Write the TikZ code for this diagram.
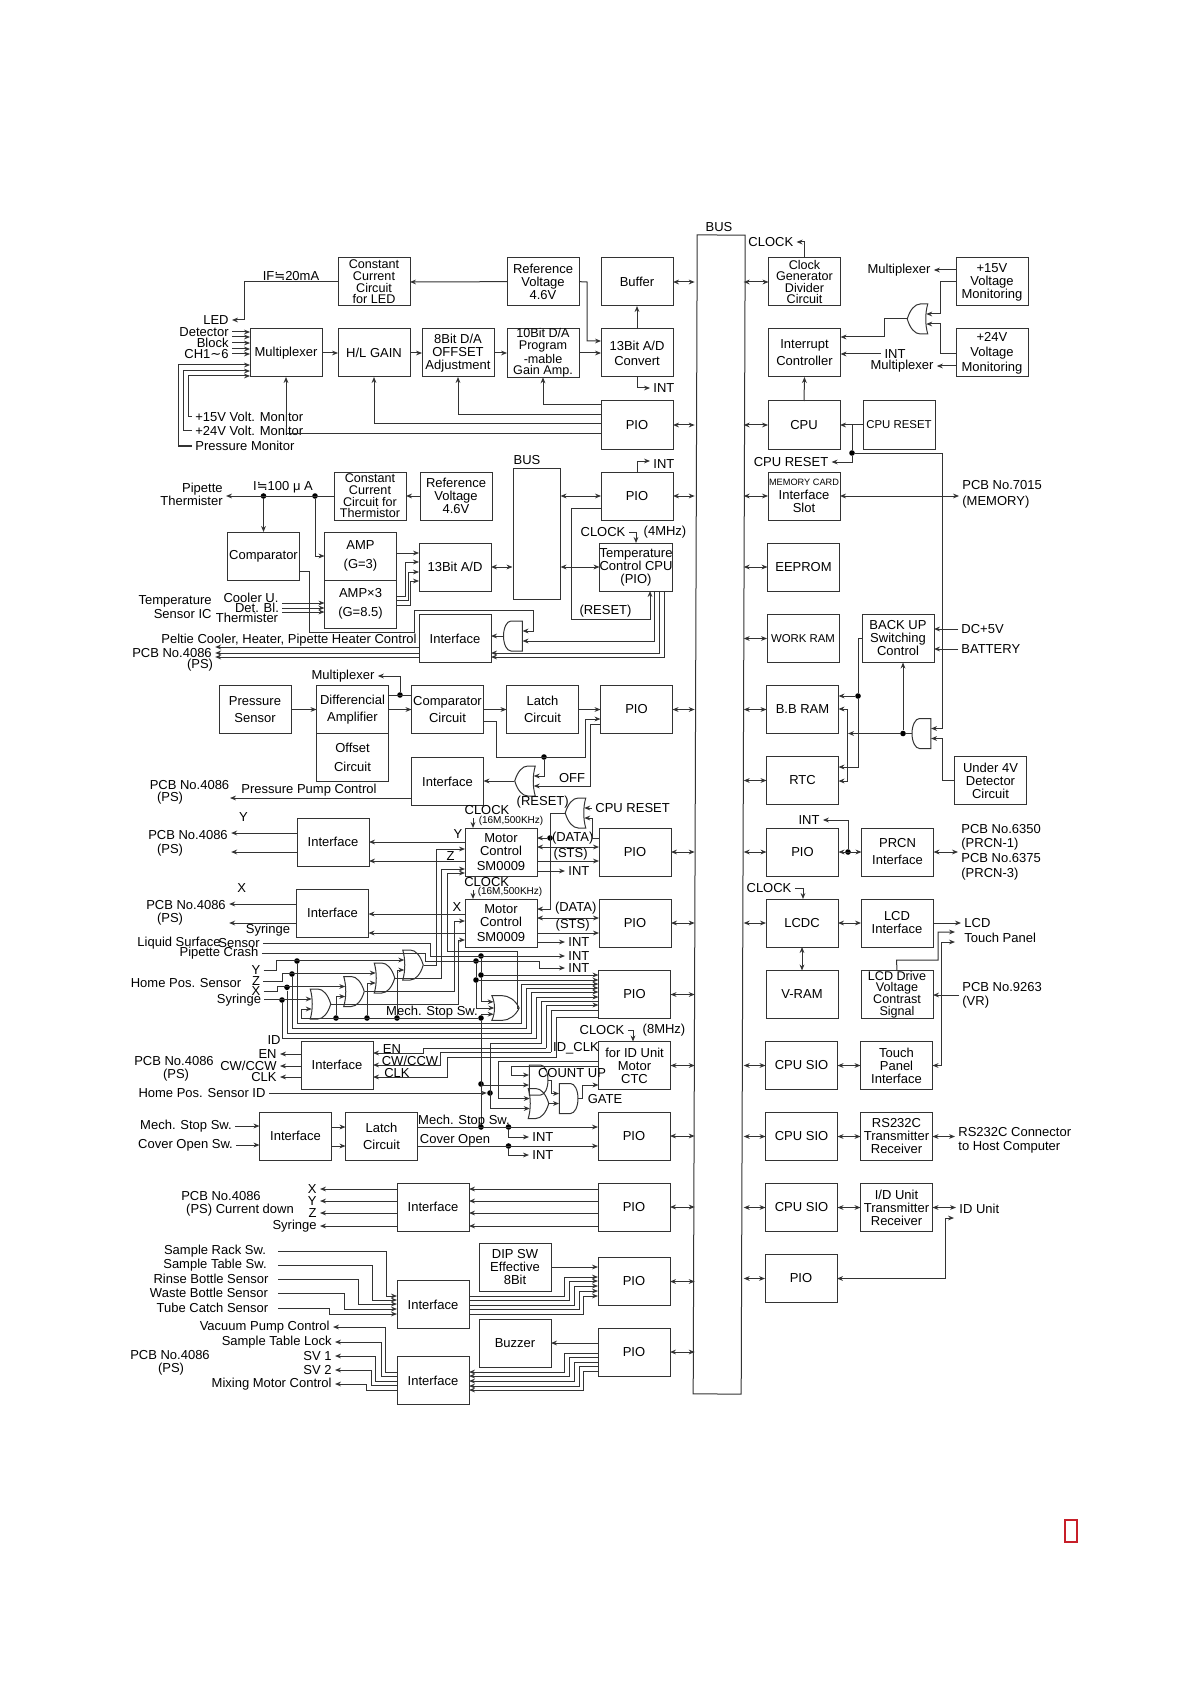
\documentclass[tikz,border=0pt]{standalone}
\usepackage{fontspec}
\setmainfont{Liberation Sans}
\newfontfamily\dejav{DejaVu Sans}
\usepackage{xcolor}
\usepackage{tikz}
\usetikzlibrary{arrows.meta,positioning,shapes.gates.logic.US}
\definecolor{wirec}{gray}{0.2}
\definecolor{markc}{rgb}{0.78,0.12,0.16}

\begin{document}
\begin{tikzpicture}[x=0.5pt,y=-0.5pt,
  font=\fontsize{6.5}{6.5}\selectfont,
  box/.style={draw=wirec, line width=0.5pt, minimum width=36pt, minimum height=24pt,
              inner sep=0pt, outer sep=0pt, align=center},
  tight/.style={font=\fontsize{6.3}{5.8}\selectfont},
  lab/.style={inner sep=1.5pt, align=center},
  wire/.style={draw=wirec, line width=0.5pt},
  arr/.style={wire, -{Stealth[length=3pt,width=2.4pt]}},
  biarr/.style={wire, {Stealth[length=3pt,width=2.4pt]}-{Stealth[length=3pt,width=2.4pt]}},
  jn/.style={circle, fill=black, inner sep=0pt, minimum size=2.8pt},
  orgate/.style={or gate US, draw=wirec, line width=0.5pt, inner sep=0pt, logic gate inputs=nn,
                 logic gate input sep=4.2pt, minimum width=10pt, minimum height=12pt, xscale=0.5},
  andgate/.style={and gate US, draw=wirec, line width=0.5pt, inner sep=0pt, logic gate inputs=nn,
                 logic gate input sep=4.2pt, minimum width=10pt, minimum height=12pt, xscale=0.5}
]
\useasboundingbox (0,0) rectangle (1190,1684);

% Main bus
\node[draw=wirec, line width=0.5pt, minimum width=24pt, minimum height=579.5pt, inner sep=0pt,
      rotate=-0.2] (bus) at (719.2,814.5) {};
\node[lab] (busl) at (719,227) {BUS};

% LED and detector channel
\node[box] (mux) at (286,353) {Multiplexer};
\node[box, right=8pt of mux] (hlgain) {H/L GAIN};
\node[box, right=6pt of hlgain] (da8) {8Bit D/A\\OFFSET\\Adjustment};
\node[box, tight, right=6.5pt of da8] (da10) {10Bit D/A\\Program\\-mable\\Gain Amp.};
\node[box, right=11pt of da10] (ad13) {13Bit A/D\\[1pt]Convert};
\node[box, tight, above=11.5pt of hlgain] (ccled) {Constant\\Current\\Circuit\\for LED};
\node[box, above=11.5pt of da10] (refv) {Reference\\Voltage\\4.6V};
\node[box, above=11.5pt of ad13] (buffer) {Buffer};
\node[box, below=12pt of ad13] (pio1) {PIO};

\node[lab] (ifl) at (291,276) {IF{\dejav ≒}20mA};
\node[lab, anchor=east] (ledl) at (232,320) {LED};
\node[lab, anchor=east] (detl) at (232,332) {Detector};
\node[lab, anchor=east] (blkl) at (232,343) {Block};
\node[lab, anchor=east] (chl) at (232,354) {CH1{\dejav ∼}6};
\node[lab, anchor=west] (mon15) at (192,417) {+15V Volt. Monitor};
\node[lab, anchor=west] (mon24) at (192,431) {+24V Volt. Monitor};
\node[lab, anchor=west] (monp) at (192,446) {Pressure Monitor};
\node[lab, anchor=west] (inta) at (650,388) {INT};

\draw[arr] (ccled.west) -- (244,282) |- (ledl);
\draw[arr] (refv.west) -- (ccled.east);
\draw[arr] (refv.east) -- (587,282) |- (ad13.west |- 0,341);
\foreach \a/\b in {mux/hlgain,hlgain/da8,da8/da10,da10/ad13} {
  \draw[arr] (\a.east) -- (\b.west);
}
\draw[arr] (ad13.north) -- (buffer.south);
\draw[arr] (ad13.south) |- (inta);
\foreach \y/\b in {405/da10,415/da8,424/hlgain,434/mux} {
  \draw[arr] (pio1.west |- 0,\y) -| (\b.south);
}
\foreach \y in {332,337,343,349,354} {
  \draw[arr] (detl.east |- 0,\y) -- (mux.west |- 0,\y);
}
\draw[arr] (mon15.west) -- (188.5,417) |- (mux.west |- 0,376);
\draw[arr] (mon24.west) -- (183.5,431) |- (mux.west |- 0,371);
\draw[arr] (monp.west) -- (178.5,446) |- (mux.west |- 0,365);

% Thermistor channel
\node[box] (ccth) at (370,496) [tight] {Constant\\Current\\Circuit for\\Thermistor};
\node[box, right=7pt of ccth] (refth) {Reference\\Voltage\\4.6V};
\node[draw=wirec, line width=0.5pt, minimum width=23.5pt, minimum height=65.5pt, inner sep=0pt] (bus2) at (536.5,533.5) {};
\node[lab] (bus2l) at (527,460) {BUS};
\node[box, below=11.5pt of pio1] (pio2) {PIO};
\node[box] (comp) at (263.5,556) {Comparator};
\node[box] (amp) at (360.5,556) {AMP\\[3pt](G=3)};
\node[box, below=0pt of amp] (ampx) {AMP×3\\[3pt](G=8.5)};
\node[box] (adth) at (455,567) {13Bit A/D};
\node[box] (tempc) at (636,567) {Temperature\\Control CPU\\(PIO)};
\node[box] (ifth) at (455,638.5) {Interface};
\node[andgate, rotate=180] (gt) at (513.5,636) {};

\node[lab, anchor=east, align=right] (pipth) at (226,494) {Pipette\\Thermister};
\node[lab] (il) at (283,487) {I{\dejav ≒}100 μ A};
\node[jn] (jc) at (263.5,496) {};
\node[jn] (ja) at (315,496) {};
\node[lab, anchor=west] (intb) at (650,464) {INT};
\node[lab] (clk4) at (603,532) {CLOCK};
\node[lab] (mhz4) at (665,532) {(4MHz)};
\node[lab] (rstt) at (605.5,611) {(RESET)};
\node[lab, anchor=east, align=right] (tsic) at (215,607) {Temperature\\[0.5pt]Sensor IC};
\node[lab] (coolu) at (251,598) {Cooler U.};
\node[lab] (detbl) at (257,608) {Det. Bl.};
\node[lab] (thrm) at (247,618) {Thermister};
\node[lab] (pelt) at (289,640) {Peltie Cooler, Heater, Pipette Heater Control};
\node[lab] (pcbt) at (172,653) {PCB No.4086};
\node[lab] (pst) at (200,665) {(PS)};

\draw[arr] (refth.west) -- (ccth.east);
\draw[arr] (ccth.west) -- (pipth.east |- ccth.west);
\draw[arr] (jc) -- (jc |- comp.north);
\draw[arr] (ja) |- (amp.west);
\draw[biarr] (bus2.east |- pio2.west) -- (pio2.west);
\draw[arr] (pio2.north) -- (637,461) -- (intb.west |- 0,461);
\draw[arr] (amp.east |- 0,553) -- (adth.west |- 0,553);
\foreach \s/\x/\t in {596/405/562,600/408/572,605/410.5/581} {
  \draw[arr] (ampx.east |- 0,\s) -- (\x,\s) |- (adth.west |- 0,\t);
}
\draw[biarr] (adth.east) -- (bus2.west |- adth.east);
\draw[biarr] (bus2.east |- tempc.west) -- (tempc.west);
\draw[arr] (clk4.east) -- (636,532) -- (tempc.north -| 636,0);
\draw[arr] (pio2.west |- 0,508) -- (571.5,508) |- (650,619) -- (tempc.south -| 650,0);
\draw[arr] (tempc.south -| 654,0) |- (gt.input 1);
\draw[arr] (comp.east |- 0,571) -- (309,571) |- (414.5,632) |- (533,610) |- (gt.input 2);
\draw[arr] (gt.output) -- (ifth.east |- gt.output);
\draw[arr] (tempc.south -| 659,0) |- (ifth.east |- 0,653);
\draw[arr] (tempc.south -| 664,0) |- (ifth.east |- 0,657);
\foreach \y in {647,653,657} {
  \draw[arr] (ifth.west |- 0,\y) -- (pcbt.east |- 0,\y);
}
\foreach \y in {603,608,612} {
  \draw[arr] (282,\y) -- (ampx.west |- 0,\y);
}

% Pressure channel
\node[box] (psens) at (255,709.5) {Pressure\\[2pt]Sensor};
\node[box] (diff) at (352.5,709.5) {Differencial\\[2pt]Amplifier};
\node[box, below=0pt of diff] (offs) {Offset\\[3pt]Circuit};
\node[box, right=11.5pt of diff] (compc) {Comparator\\[2pt]Circuit};
\node[box, right=11.5pt of compc] (latch) {Latch\\[2pt]Circuit};
\node[box, right=11pt of latch] (piop) {PIO};
\node[box, below=12pt of compc] (ifp) {Interface};
\node[orgate, rotate=180] (go) at (526.5,781) {};
\node[jn] (jd) at (400,695) {};
\node[jn] (jo) at (544,757) {};
\node[lab] (mxp) at (343,676) {Multiplexer};
\node[lab] (offl) at (572,778) {OFF};
\node[lab] (ppc) at (309,790) {Pressure Pump Control};
\node[lab] (pcbp) at (189.5,785) {PCB No.4086};
\node[lab] (psp) at (170,798) {(PS)};
\coordinate (pume) at (230,798);

\foreach \a/\b in {psens/diff,diff/compc,compc/latch,latch/piop} {
  \draw[arr] (\a.east) -- (\b.west);
}
\draw[wire] (diff.east |- jd) -- (compc.west |- jd);
\draw[arr] (jd) |- (mxp);
\draw[arr] (compc.east |- 0,721) -- (496,721) |- (585,757) |- (piop.west |- 0,719);
\draw[arr] (jo) |- (go.input 2);
\draw[arr] (piop.west |- 0,724) -- (590,724) |- (go.input 1);
\draw[arr] (go.output) -- (ifp.east |- go.output);
\draw[arr] (ifp.west |- pume) -- (pume);

% Motor control, Y and Z
\node[box] (if1) at (333,842) {Interface};
\node[box] (m1) at (501,852) {Motor\\Control\\[1pt]SM0009};
\node[box] (piom1) at (635,852) {PIO};
\node[orgate, rotate=180] (gr) at (577,813) {};
\node[jn] (jr) at (550,838) {};
\node[lab] (rstm) at (542.7,802) {(RESET)};
\node[lab, anchor=west] (crl) at (592,808) {CPU RESET};
\node[lab] (clk1) at (487,810) {CLOCK};
\node[lab, font=\fontsize{5}{5}\selectfont] (fq1) at (511,821) {(16M,500KHz)};
\node[lab] (ymot) at (243.5,817) {Y};
\node[lab] (pcbm1) at (188,835) {PCB No.4086};
\node[lab] (psm1) at (170,850) {(PS)};
\node[lab] (yl1) at (458,834) {Y};
\node[lab] (zl1) at (450.7,856) {Z};
\node[lab] (data1) at (572.7,838) {(DATA)};
\node[lab] (sts1) at (570.7,854) {(STS)};
\node[lab, anchor=west] (intm1) at (565,871) {INT};

\draw[arr] (if1.west |- 0,833) -- (pcbm1.east |- 0,833);
\draw[arr] (if1.west |- 0,852) -- (pcbm1.east |- 0,852);
\draw[arr] (m1.west |- 0,842) -- (if1.east |- 0,842);
\draw[arr] (m1.west |- 0,861) -- (if1.east |- 0,861);
\draw[arr] (clk1.south -| 473,0) -- (m1.north -| 473,0);
\draw[arr] (crl.west) -- (gr.input 2);
\draw[arr] (piom1.west |- 0,838) -- (592,838) |- (gr.input 1);
\draw[arr] (gr.output) -- (550,813) |- (m1.east |- 0,909);
\draw[arr] (jr) -- (m1.east |- jr);
\draw[biarr] (m1.east |- 0,847) -- (piom1.west |- 0,847);
\draw[arr] (m1.east |- 0,861) -- (piom1.west |- 0,861);
\draw[arr] (m1.east |- intm1) -- (intm1);

% Motor control, X and syringe
\node[box] (if2) at (332.5,913) {Interface};
\node[box] (m2) at (501,923) {Motor\\Control\\[1pt]SM0009};
\node[box] (piom2) at (635,923) {PIO};
\node[lab] (clk2) at (486.7,882) {CLOCK};
\node[lab, font=\fontsize{5}{5}\selectfont] (fq2) at (510,892) {(16M,500KHz)};
\node[lab] (xmot) at (241.6,888) {X};
\node[lab] (pcbm2) at (186,905) {PCB No.4086};
\node[lab] (psm2) at (170,919) {(PS)};
\node[lab] (syrm) at (268,930) {Syringe};
\node[lab] (xl2) at (457,907) {X};
\node[lab] (data2) at (575.7,908) {(DATA)};
\node[lab] (sts2) at (572.7,925) {(STS)};
\node[lab, anchor=west] (intm2) at (565,942) {INT};

\draw[arr] (if2.west |- 0,904) -- (pcbm2.east |- 0,904);
\draw[arr] (if2.west |- 0,923) -- (pcbm2.east |- 0,923);
\draw[arr] (m2.west |- 0,914) -- (if2.east |- 0,914);
\draw[arr] (m2.west |- 0,933) -- (if2.east |- 0,933);
\draw[arr] (clk2.south -| 473,0) -- (m2.north -| 473,0);
\draw[biarr] (m2.east |- 0,918) -- (piom2.west |- 0,918);
\draw[arr] (m2.east |- 0,933) -- (piom2.west |- 0,933);
\draw[arr] (m2.east |- intm2) -- (intm2);

% Home position sensors and gates
\node[box] (pio3) at (634.5,994.5) {PIO};
\node[orgate] (g1) at (319,1004) {};
\node[orgate] (g2) at (352.5,991.5) {};
\node[orgate] (g3) at (383,978) {};
\node[orgate] (g4) at (411.5,965) {};
\node[orgate, logic gate inputs=nnn, yscale=0.62] (g5) at (503.5,1008) {};
\node[lab] (liql) at (179,943) {Liquid Surface};
\node[lab] (sensl) at (239,943) {Sensor};
\node[lab] (crash) at (219,953) {Pipette Crash};
\node[lab] (homel) at (186,983) {Home Pos. Sensor};
\node[lab] (yh) at (256,970) {Y};
\node[lab] (zh) at (256,981) {Z};
\node[lab] (xh) at (256,991) {X};
\node[lab] (sh) at (239,1000) {Syringe};
\node[lab, anchor=west] (intc) at (565,956) {INT};
\node[lab, anchor=west] (intd) at (565,968) {INT};
\node[lab] (mstl) at (432,1012) {Mech. Stop Sw.};
\node[jn] (jy) at (297,961) {};
\node[jn] (jz) at (292,974) {};
\node[jn] (jx) at (287,987.3) {};
\node[jn] (js) at (282,1000) {};
\node[jn] (jm1) at (336,1018) {};
\node[jn] (jm2) at (367,1018) {};
\node[jn] (jm3) at (397,1018) {};
\node[jn] (jmech) at (481,1018) {};
\node[jn] (jl1) at (481,956) {};
\node[jn] (jl2) at (476,961) {};
\node[jn] (jp1) at (481,975) {};
\node[jn] (jp2) at (476,980) {};

\draw[arr] (sensl.east) -- (430,943) |- (intc);
\draw[arr] (crash.east) -- (425,953) |- (539,961) |- (intd);
\draw[arr] (yh.east) -- (276,970) |- (g4.input 1);
\draw[arr] (zh.east) -- (282,981) |- (g3.input 1);
\draw[arr] (xh.east) -- (277,991) |- (g2.input 1);
\draw[arr] (sh.east) |- (g1.input 1);
\draw[arr] (jmech) -- (301,1018) |- (g1.input 2);
\draw[arr] (jm1) |- (g2.input 2);
\draw[arr] (jm2) |- (g3.input 2);
\draw[arr] (jm3) |- (g4.input 2);
\draw[arr] (g4.output) -- (436,965) |- (m1.west |- 0,849);
\draw[arr] (g3.output) -- (441,978) |- (m1.west |- 0,869);
\draw[arr] (g5.output) -- (517,1008) |- (447,951) |- (m1.west |- 0,873);
\draw[arr] (g2.output) -- (454,991.5) |- (m2.west |- 0,921);
\draw[arr] (g1.output) -- (458,1004) |- (m2.west |- 0,940);
\draw[wire] (jl1) -- (jp1);
\draw[wire] (jl2) -- (jp2);
\draw[arr] (jp1) |- (g5.input 1);
\draw[arr] (jp2) |- (g5.input 2);
\draw[arr] (jmech) |- (g5.input 3);
\draw[arr] (jp1) -- (pio3.west |- jp1);
\draw[arr] (jp2) -- (pio3.west |- jp2);
\foreach \j/\x/\sy/\ly in {jy/521/984/1023,jz/526/988/1028,jx/531/992/1033,js/536/997/1038} {
  \draw[arr] (\j) |- (\x,\ly) |- (pio3.west |- 0,\sy);
}

% ID unit motor and counter gates
\node[box] (ctc) at (634.5,1065.5) {for ID Unit\\Motor\\CTC};
\node[box] (if3) at (337,1065) {Interface};
\node[andgate] (a1) at (538,1080) {};
\node[orgate] (o1) at (537,1103.5) {};
\node[andgate] (a2) at (568,1098.5) {};
\node[lab] (clk8) at (602,1030) {CLOCK};
\node[lab] (mhz8) at (664,1030) {(8MHz)};
\node[lab] (idclk) at (576,1048) {ID\_CLK};
\node[lab] (cntup) at (572,1073) {COUNT UP};
\node[lab] (gatel) at (605,1099) {GATE};
\node[lab] (idl) at (274,1040) {ID};
\node[lab, anchor=east] (enl) at (280,1054) {EN};
\node[lab, anchor=east] (cwl) at (280,1066) {CW/CCW};
\node[lab, anchor=east] (ckl) at (280,1077) {CLK};
\node[lab] (pcbi) at (174,1061) {PCB No.4086};
\node[lab] (psi) at (176,1075) {(PS)};
\node[lab] (hidl) at (202,1093) {Home Pos. Sensor ID};
\node[lab] (en2) at (392,1049) {EN};
\node[lab] (cw2) at (410,1061) {CW/CCW};
\node[lab] (ck2) at (397,1073) {CLK};
\node[jn] (jcu) at (481,1084) {};
\node[jn] (jhid) at (490,1093) {};

\draw[arr] (clk8.east) -- (633,1030) -- (ctc.north -| 633,0);
\foreach \l in {enl,cwl,ckl} {
  \draw[arr] (if3.west |- \l) -- (\l);
}
\draw[arr] (hidl.east) -- (jhid);
\draw[wire] (jmech) -- (481,1127);
\draw[arr] (jcu) |- (a1.input 2);
\draw[arr] (ctc.west |- 0,1066) -- (511,1066) |- (a1.input 1);
\draw[arr] (ctc.west |- 0,1061) -- (498,1061) |- (o1.input 1);
\draw[arr] (pio3.west |- 0,1001) -- (541,1001) |- (490,1043) |- (o1.input 2);
\draw[arr] (546,1048) |- (pio3.west |- 0,1005);
\draw[arr] (546,1048) -- (423,1048) |- (if3.east |- 0,1053);
\draw[arr] (551,1052) -- (440,1052) |- (if3.east |- 0,1065);
\draw[wire] (551,1052) |- (pio3.west |- 0,1010);
\draw[arr] (pio3.west |- 0,1017) -- (556,1017) |- (447,1057) |- (if3.east |- 0,1077);
\draw[arr] (a1.output) -- (551,1080) |- (a2.input 1);
\draw[arr] (o1.output) -- (a2.input 2);
\draw[arr] (a2.output) -- (582,1098.5) |- (ctc.west |- 0,1085);

% Mechanical stop and cover
\node[box] (ifm) at (295.5,1136) {Interface};
\node[box, right=7pt of ifm] (latm) {Latch\\[2pt]Circuit};
\node[box] (piom) at (634,1136) {PIO};
\node[lab] (mswl) at (186,1126) {Mech. Stop Sw.};
\node[lab] (cowl) at (185.5,1145) {Cover Open Sw.};
\node[lab] (mst2) at (464,1121) {Mech. Stop Sw.};
\node[lab] (cov2) at (455,1140) {Cover Open};
\node[lab, anchor=west] (inte) at (529,1137) {INT};
\node[lab, anchor=west] (intf) at (529,1155) {INT};
\node[jn] (jstop) at (481,1127) {};
\node[jn] (jm4) at (508.5,1127) {};
\node[jn] (jm5) at (508.5,1146) {};

\draw[arr] (mswl.east) -- (ifm.west |- mswl.east);
\draw[arr] (cowl.east) -- (ifm.west |- cowl.east);
\foreach \y in {1127,1146} {
  \draw[arr] (ifm.east |- 0,\y) -- (latm.west |- 0,\y);
  \draw[arr] (latm.east |- 0,\y) -- (piom.west |- 0,\y);
}
\draw[arr] (jm4) |- (inte);
\draw[arr] (jm5) |- (intf);

% Current down
\node[box] (ifc) at (433,1207) {Interface};
\node[box] (pioc) at (634,1207) {PIO};
\node[lab] (pcbc) at (221,1196) {PCB No.4086};
\node[lab] (psc) at (240,1210) {(PS) Current down};
\node[lab, anchor=east] (cx) at (320,1189) {X};
\node[lab, anchor=east] (cy) at (320,1201) {Y};
\node[lab, anchor=east] (cz) at (320,1213) {Z};
\node[lab, anchor=east] (cs) at (320,1226) {Syringe};
\foreach \l in {cx,cy,cz,cs} {
  \draw[arr] (pioc.west |- \l) -- (ifc.east |- \l);
  \draw[arr] (ifc.west |- \l) -- (\l);
}

% Switch and sensor inputs
\node[box] (if4) at (433,1304.5) {Interface};
\node[box] (dip) at (515,1267) {DIP SW\\Effective\\8Bit};
\node[box] (pioi) at (634,1281.5) {PIO};
\node[lab] (srk) at (215,1251) {Sample Rack Sw.};
\node[lab] (stb) at (215,1265) {Sample Table Sw.};
\node[lab] (rnb) at (211,1279) {Rinse Bottle Sensor};
\node[lab] (wsb) at (209,1293) {Waste Bottle Sensor};
\node[lab] (tcs) at (212.5,1308) {Tube Catch Sensor};
\foreach \l/\x/\y in {srk/386/1296,stb/372/1300,rnb/358.6/1304,wsb/344/1309,tcs/329/1314} {
  \draw[arr] (\l.east -| 278,0) -- (\x,0 |- \l.east) |- (if4.west |- 0,\y);
}
\draw[arr] (dip.east |- 0,1267) -- (pioi.west |- 0,1267);
\foreach \s/\x/\t in {1296/564/1277,1300/569.5/1281,1305/574/1286,1309/579/1291,1314/583.6/1296} {
  \draw[arr] (if4.east |- 0,\s) -- (\x,\s) |- (pioi.west |- 0,\t);
}

% Outputs
\node[box] (buzz) at (515,1343) {Buzzer};
\node[box] (pioo) at (634,1352) {PIO};
\node[box] (if5) at (433,1380.5) {Interface};
\node[lab, anchor=east] (vpc) at (333,1327) {Vacuum Pump Control};
\node[lab, anchor=east] (stl) at (335,1342) {Sample Table Lock};
\node[lab, anchor=east] (sv1) at (335,1356) {SV 1};
\node[lab, anchor=east] (sv2) at (335,1370) {SV 2};
\node[lab, anchor=east] (mmc) at (335,1384) {Mixing Motor Control};
\node[lab] (pcbo) at (170,1355) {PCB No.4086};
\node[lab] (pso) at (171,1369) {(PS)};
\draw[arr] (pioo.west |- 0,1343) -- (buzz.east |- 0,1343);
\foreach \s/\x/\t in {1353/564/1372,1357/569.5/1376,1362/574/1381,1366/579/1386,1371/583.6/1390} {
  \draw[arr] (pioo.west |- 0,\s) -- (\x,\s) |- (if5.east |- 0,\t);
}
\foreach \l/\x/\y in {vpc/385.7/1372,stl/381/1376,sv1/375/1381,sv2/371/1385,mmc/366/1390} {
  \draw[arr] (if5.west |- 0,\y) -- (\x,\y) |- (\l);
}

% Right column, clock and monitoring
\node[lab, anchor=west] (clkt) at (745,242) {CLOCK};
\node[box, tight] (clkgen) at (804.5,282) {Clock\\Generator\\Divider\\Circuit};
\node[box] (v15) at (992,282) {+15V\\Voltage\\Monitoring};
\node[box] (intr) at (804.5,353) {Interrupt\\[2pt]Controller};
\node[box] (v24) at (992,353) {+24V\\[1pt]Voltage\\[1pt]Monitoring};
\node[box] (cpu) at (804,425) {CPU};
\node[box, right=11.5pt of cpu, font=\fontsize{5.7}{6}\selectfont] (cpurst) {CPU RESET};
\node[box, font=\fontsize{6.5}{6.8}\selectfont] (mem) at (804,496) {{\fontsize{4.6}{6.8}\selectfont MEMORY CARD}\\Interface\\Slot};
\node[box] (eeprom) at (803.5,567) {EEPROM};
\node[box, font=\fontsize{5.7}{6}\selectfont] (wram) at (803,638.5) {WORK RAM};
\node[box, right=11.5pt of wram] (backup) {BACK UP\\Switching\\Control};
\node[box] (bbram) at (802.5,709.5) {B.B RAM};
\node[box] (rtc) at (802.5,780.5) {RTC};
\node[box] (under4) at (990.5,780.5) {Under 4V\\Detector\\Circuit};
\node[orgate, rotate=180] (gi) at (919,319) {};
\node[andgate, rotate=180] (gb) at (922,733.5) {};
\node[jn] (jcr) at (852,453) {};
\node[jn] (jbk) at (858,696) {};
\node[jn] (jbb) at (903,733.5) {};
\node[lab] (mxa) at (899,270) {Multiplexer};
\node[lab] (intl) at (895,354) {INT};
\node[lab] (mxb) at (902,366) {Multiplexer};
\node[lab] (crl2) at (791,462) {CPU RESET};
\node[lab, anchor=west, align=left] (pcb15) at (959,494) {PCB No.7015\\[1.5pt](MEMORY)};
\node[lab, anchor=west] (dc5) at (958,629) {DC+5V};
\node[lab, anchor=west] (batt) at (958,649) {BATTERY};

\draw[arr] (clkgen.north) |- (clkt);
\draw[arr] (v15.west |- mxa) -- (mxa);
\draw[arr] (v15.west |- 0,282) -- (940,282) |- (gi.input 2);
\draw[arr] (v24.west |- 0,354) -- (940,354) |- (gi.input 1);
\draw[arr] (gi.output) -- (884,319) |- (intr.east |- 0,337);
\draw[arr] (intl) -- (intr.east |- intl);
\draw[arr] (v24.west |- mxb) -- (mxb);
\draw[arr] (cpu.north) -- (intr.south);
\draw[arr] (cpurst.west) -- (cpu.east);
\draw[wire] (jcr) -- (jcr |- cpu.east);
\draw[arr] (jcr) |- (crl2);
\draw[arr] (jcr) -- (942,453) |- (gb.input 2);
\draw[arr] (under4.west) -- (942,780.5) |- (gb.input 1);
\draw[biarr] (mem.east) -- (pcb15.west |- mem.east);
\draw[arr] (dc5) -- (backup.east |- dc5);
\draw[arr] (batt) -- (backup.east |- batt);
\draw[wire] (backup.west |- 0,638) -- (858,638) -- (jbk);
\draw[arr] (jbk) -- (bbram.east |- jbk);
\draw[arr] (jbk) |- (rtc.east |- 0,767);
\draw[wire] (gb.output) -- (jbb);
\draw[arr] (jbb) -- (jbb |- backup.south);
\draw[arr] (jbb) -- (848,733.5);
\draw[biarr] (bbram.east |- 0,709) -| (847,745) |- (rtc.east |- 0,781);

% Right column, display and serial
\node[box] (piopr) at (802.5,852) {PIO};
\node[box, right=11.5pt of piopr] (prcn) {PRCN\\[2pt]Interface};
\node[box] (lcdc) at (802,923) {LCDC};
\node[box, right=11.5pt of lcdc] (lcdif) {LCD\\Interface};
\node[box] (vram) at (802,994.5) {V-RAM};
\node[box, tight, right=11.5pt of vram] (lcddrv) {LCD Drive\\Voltage\\Contrast\\Signal};
\node[box] (sio1) at (801.5,1065.5) {CPU SIO};
\node[box, right=11.5pt of sio1] (touch) {Touch\\Panel\\Interface};
\node[box] (sio2) at (801.5,1136.5) {CPU SIO};
\node[box, right=11.5pt of sio2] (rs) {RS232C\\Transmitter\\Receiver};
\node[box] (sio3) at (801.5,1207.5) {CPU SIO};
\node[box, right=11.5pt of sio3] (idu) {I/D Unit\\Transmitter\\Receiver};
\node[box] (piol) at (801,1278.5) {PIO};
\node[jn] (jpr) at (848,852) {};
\node[lab] (intp) at (809,820) {INT};
\node[lab, anchor=west, align=left] (prl) at (958,852) {PCB No.6350\\[0.8pt](PRCN-1)\\[0.8pt]PCB No.6375\\[0.8pt](PRCN-3)};
\node[lab] (clkr) at (769,888) {CLOCK};
\node[lab, anchor=west] (lcdl) at (961,923) {LCD};
\node[lab, anchor=west] (tpl) at (961,938) {Touch Panel};
\coordinate (tpa) at (955,932);
\coordinate (tpb) at (955,942);
\node[lab, anchor=west, align=left] (vrl) at (959,995) {PCB No.9263\\[0.5pt](VR)};
\node[lab, anchor=west, align=left] (rsl) at (955,1140) {RS232C Connector\\[0.5pt]to Host Computer};
\node[lab, anchor=west] (idul) at (956,1209) {ID Unit};
\coordinate (ida) at (954,1218);

\draw[biarr] (piopr.east) -- (prcn.west);
\draw[arr] (jpr) |- (intp);
\draw[biarr] (prcn.east) -- (prl.west |- prcn.east);
\draw[arr] (clkr.east) -- (803,888) -- (lcdc.north -| 803,0);
\draw[biarr] (lcdc.east) -- (lcdif.west);
\draw[biarr] (lcdc.south) -- (lcdc.south |- vram.north);
\draw[arr] (lcdif.east) -- (lcdl);
\draw[arr] (lcddrv.north) -- (896.5,960) -- (938,960) |- (tpa);
\draw[biarr] (touch.east) -- (941,1065.5) |- (tpb);
\draw[arr] (vrl) -- (lcddrv.east |- vrl);
\foreach \a/\b in {sio1/touch,sio2/rs,sio3/idu} {
  \draw[biarr] (\a.east) -- (\b.west);
}
\draw[biarr] (rs.east) -- (rsl.west |- rs.east);
\draw[biarr] (idu.east) -- (idul.west |- idu.east);
\draw[biarr] (piol.east) -- (945,1278.5) |- (ida);

% Bus connections
\foreach \b in {buffer,pio1,pio2,piop,piom1,piom2,pio3,ctc,piom,pioc,pioi,pioo} {
  \draw[biarr] (\b.east) -- (\b.east -| bus.west);
}
\foreach \b in {clkgen,cpu,mem,eeprom,wram,bbram,rtc,piopr,lcdc,sio1,sio2,sio3,piol} {
  \draw[biarr] (\b.west) -- (\b.west -| bus.east);
}

% Stray mark
\node[draw=markc, line width=0.6pt, minimum width=6pt, minimum height=11pt, inner sep=0pt] (mark) at (1071,1531) {};
\end{tikzpicture}
\end{document}
